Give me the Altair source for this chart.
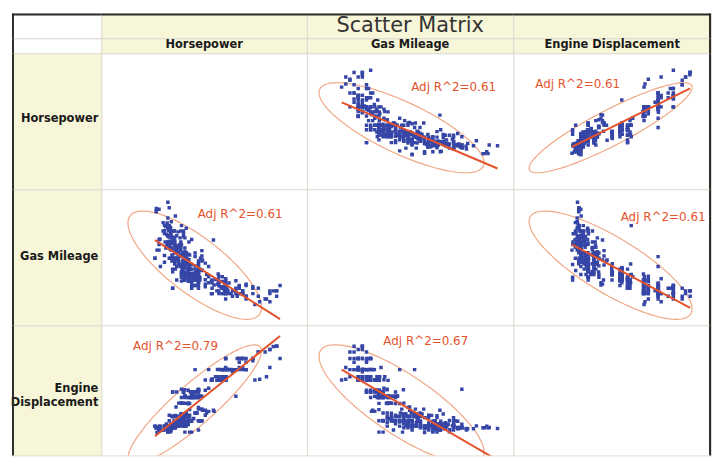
import numpy as np
import pandas as pd
import altair as alt

# ---- data (one entry per car; the same cars feed every panel) ----
MPG = [18,15,18,16,17,15,14,14,14,15,
       15,14,15,14,24,22,18,21,27,26,
       25,24,25,26,21,10,10,11,9,27,
       28,25,19,16,17,19,18,14,14,14,
       14,12,13,13,18,22,19,18,23,28,
       30,30,31,35,27,26,24,25,23,20,
       21,13,14,15,14,17,11,13,12,13,
       19,15,13,13,14,18,22,21,26,22,
       28,23,28,27,13,14,13,14,15,12,
       13,13,14,13,12,13,18,16,18,18,
       23,26,11,12,13,12,18,20,21,22,
       18,19,21,26,15,16,29,24,20,19,
       15,24,20,11,20,19,15,31,26,32,
       25,16,16,18,16,13,14,14,14,29,
       26,26,31,32,28,24,26,24,26,31,
       19,18,15,15,16,15,16,14,17,16,
       15,18,21,20,13,29,23,20,23,24,
       25,24,18,29,19,23,23,22,25,33,
       28,25,25,26,27,17.5,16,15.5,14.5,22,
       22,24,22.5,29,24.5,29,33,20,18,18.5,
       17.5,29.5,32,28,26.5,20,13,19,19,16.5,
       16.5,13,13,13,31.5,30,36,25.5,33.5,17.5,
       17,15.5,15,17.5,20.5,19,18.5,16,15.5,15.5,
       16,29,24.5,26,25.5,30.5,33.5,30,30.5,22,
       21.5,21.5,43.1,36.1,32.8,39.4,36.1,19.9,19.4,20.2,
       19.2,20.5,20.2,25.1,20.5,19.4,20.6,20.8,18.6,18.1,
       19.2,17.7,18.1,17.5,30,27.5,27.2,30.9,21.1,23.2,
       23.8,23.9,20.3,17,21.6,16.2,31.5,29.5,21.5,19.8,
       22.3,20.2,20.6,17,17.6,16.5,18.2,16.9,15.5,19.2,
       18.5,31.9,34.1,35.7,27.4,25.4,23,27.2,23.9,34.2,
       34.5,31.8,37.3,28.4,28.8,26.8,33.5,41.5,38.1,32.1,
       37.2,28,26.4,24.3,19.1,34.3,29.8,31.3,37,32.2,
       46.6,27.9,40.8,44.3,43.4,36.4,30,44.6,33.8,29.8,
       32.7,23.7,35,32.4,27.2,26.6,25.8,23.5,30,39.1,
       39,35.1,32.3,37,37.7,34.1,34.7,34.4,29.9,33,
       33.7,32.4,32.9,31.6,28.1,30.7,25.4,24.2,22.4,26.6,
       20.2,17.6,28,27,34,31,29,27,24,36,
       37,31,38,36,36,36,34,38,32,38,
       25,38,26,22,32,36,27,27,44,32,
       28,31]

DISP = [307,350,318,304,302,429,454,440,455,390,
        383,340,400,455,113,198,199,200,97,97,
        110,107,104,121,199,360,307,318,304,97,
        140,113,232,225,250,250,232,350,400,351,
        318,383,400,400,258,140,250,250,122,116,
        79,88,71,72,97,91,113,97.5,97,140,
        122,350,400,318,351,304,429,350,350,400,
        70,304,307,302,318,121,121,120,96,122,
        97,120,98,97,350,304,350,302,318,429,
        400,351,318,440,455,360,225,250,232,250,
        198,97,400,400,360,350,232,97,140,108,
        70,122,155,98,350,400,68,116,114,121,
        318,121,156,350,198,232,250,79,122,71,
        140,250,258,225,302,350,318,302,304,98,
        79,97,76,83,90,90,116,120,108,79,
        225,250,250,250,400,350,318,351,231,250,
        258,225,231,262,302,97,140,232,140,134,
        90,119,171,90,232,115,120,121,121,91,
        107,116,140,98,101,305,318,304,351,225,
        250,200,232,85,98,90,91,225,250,250,
        258,97,85,97,140,130,318,120,156,168,
        350,350,302,318,98,111,79,122,85,305,
        260,318,302,250,231,225,250,400,350,400,
        351,97,151,97,140,98,98,97,97,146,
        121,80,90,98,78,85,91,260,318,302,
        231,200,200,140,225,232,231,200,225,258,
        305,231,302,318,98,134,119,105,134,156,
        151,119,131,163,121,163,89,98,231,200,
        140,232,225,305,302,351,318,350,351,267,
        360,89,86,98,121,183,350,141,260,105,
        105,85,91,151,173,173,151,98,89,98,
        86,151,140,151,225,97,134,120,119,108,
        86,156,85,90,90,121,146,91,97,89,
        168,70,122,107,135,151,156,173,135,79,
        86,81,97,85,89,91,105,98,98,105,
        107,108,119,120,141,145,168,146,231,350,
        200,225,112,112,112,112,135,151,140,105,
        91,91,105,98,120,107,108,91,91,91,
        181,262,156,232,144,135,151,140,97,135,
        120,119]

HP = [130,165,150,150,140,198,220,215,225,190,
      170,160,150,225,95,95,97,85,88,46,
      87,90,95,113,90,215,200,210,193,88,
      90,95,100,105,100,88,100,165,175,153,
      150,180,170,175,110,72,100,88,86,90,
      70,76,65,69,60,70,95,80,54,90,
      86,165,175,150,153,150,208,155,160,190,
      97,150,130,140,150,112,76,87,69,86,
      92,97,80,88,175,150,145,137,150,198,
      150,158,150,215,225,175,105,100,100,88,
      95,46,150,167,170,180,100,88,72,94,
      90,85,107,90,145,230,49,75,91,112,
      150,110,122,180,95,100,100,67,80,65,
      75,100,110,105,140,150,150,140,150,83,
      67,78,52,61,75,75,75,97,93,67,
      95,105,72,72,170,145,150,148,110,105,
      110,95,110,110,129,75,83,100,78,96,
      71,97,97,70,90,95,88,98,115,53,
      86,81,92,79,83,140,150,120,152,100,
      105,81,90,52,60,70,53,100,78,110,
      95,71,70,75,72,102,150,88,108,120,
      180,145,130,150,68,80,58,96,70,145,
      110,145,130,110,105,100,98,180,170,190,
      149,78,88,75,89,63,83,67,78,97,
      110,110,48,66,52,70,60,110,140,139,
      105,95,85,88,100,90,105,85,110,120,
      145,165,139,140,68,95,97,75,95,105,
      85,97,103,125,115,133,71,68,115,85,
      88,90,110,130,129,138,135,155,142,125,
      150,71,65,80,80,77,125,71,90,70,
      70,65,69,90,115,115,90,76,60,70,
      65,90,88,90,90,78,90,75,92,75,
      65,105,65,48,48,67,67,67,67,62,
      132,100,88,72,84,84,92,110,84,58,
      64,60,67,65,62,68,63,65,65,74,
      75,75,100,74,80,76,116,120,110,105,
      88,85,88,88,88,85,84,90,92,74,
      68,68,63,70,88,75,70,67,67,67,
      110,85,92,112,96,84,90,86,52,84,
      79,82]

assert len(MPG) == len(DISP) == len(HP), (len(MPG), len(DISP), len(HP))

VARS = ["hp", "mpg", "disp"]
COL_LABELS = ["Horsepower", "Gas Mileage", "Engine Displacement"]
ROW_LABELS = ["Horsepower", "Gas Mileage", "Engine\nDisplacement"]
TITLE = "Scatter Matrix"
# (row, col) -> annotation text
R2_CELLS = [(0, 1), (0, 2), (1, 0), (1, 2), (2, 0), (2, 1)]
R2_TEXT = ["Adj R^2=0.61", "Adj R^2=0.61", "Adj R^2=0.61",
           "Adj R^2=0.61", "Adj R^2=0.79", "Adj R^2=0.67"]

cars = pd.DataFrame({"mpg": MPG, "disp": DISP, "hp": HP})

# ---- styling / layout ----
BLUE = "#3646a6"
RED = "#e4532c"
ELL = "#f0a884"
YELLOW = "#f8f6d8"
GRID = "#dedbd2"
BORDER = "#2b2b2b"
FONT = "DejaVu Sans"

LEFT_W = 90
COL_W = [207, 208, 199]
HEAD_H = [25, 15]
ROW_H = [137, 137, 131]

DOM = {"hp": [46, 230], "mpg": [9, 46.6], "disp": [68, 455]}
X_RANGE = {"hp": [54, 180], "mpg": [35, 192], "disp": [59, 178]}
Y_RANGE = {"hp": [102, 17], "mpg": [116, 13], "disp": [108, 21]}
LABEL_POS = {(0, 1): (105, 34), (0, 2): (22, 31), (1, 0): (97, 25),
             (1, 2): (108, 28), (2, 0): (32, 21), (2, 1): (77, 16)}

one = pd.DataFrame({"a": [0]})


def borders(w, h, left=False, top=False, right=False):
    out = []
    if left:
        out.append(alt.Chart(one).mark_rule(color=BORDER, strokeWidth=2).encode(
            x=alt.value(1), y=alt.value(0), y2=alt.value(h)))
    if top:
        out.append(alt.Chart(one).mark_rule(color=BORDER, strokeWidth=2).encode(
            x=alt.value(0), x2=alt.value(w), y=alt.value(1)))
    if right:
        out.append(alt.Chart(one).mark_rule(color=BORDER, strokeWidth=2).encode(
            x=alt.value(w - 1), y=alt.value(0), y2=alt.value(h)))
    return out


def ellipse_df(xv, yv, k=2.55, n=140):
    xs = cars[xv].to_numpy(float)
    ys = cars[yv].to_numpy(float)
    mean = np.array([xs.mean(), ys.mean()])
    cov = np.cov(xs, ys)
    vals, vecs = np.linalg.eigh(cov)
    t = np.linspace(0, 2 * np.pi, n)
    circ = np.vstack([np.cos(t), np.sin(t)])
    pts = vecs @ (np.sqrt(vals)[:, None] * k * circ) + mean[:, None]
    return pd.DataFrame({xv: pts[0], yv: pts[1], "i": np.arange(n)})


def cell_view(fill):
    return alt.ViewBackground(fill=fill, stroke=GRID, strokeWidth=1)


def scatter_cell(r, c):
    w, h = COL_W[c], ROW_H[r]
    right = c == 2
    if r == c:
        empty = alt.Chart(one).mark_point(opacity=0).encode(x=alt.value(0), y=alt.value(0))
        return alt.layer(empty, *borders(w, h, right=right)).properties(
            width=w, height=h, view=cell_view("white"))
    xv, yv = VARS[c], VARS[r]
    X = alt.X(f"{xv}:Q", scale=alt.Scale(domain=DOM[xv], range=X_RANGE[xv]), axis=None)
    Y = alt.Y(f"{yv}:Q", scale=alt.Scale(domain=DOM[yv], range=Y_RANGE[yv]), axis=None)
    ell = alt.Chart(ellipse_df(xv, yv)).mark_line(
        color=ELL, strokeWidth=1.2, clip=True).encode(x=X, y=Y, order="i:Q")
    pts = alt.Chart(cars).mark_square(size=12, color=BLUE, opacity=1, clip=True).encode(x=X, y=Y)
    reg = alt.Chart(cars).transform_regression(xv, yv).mark_line(
        color=RED, strokeWidth=2, clip=True).encode(x=X, y=Y)
    idx = R2_CELLS.index((r, c))
    px, py = LABEL_POS[(r, c)]
    txt = alt.Chart(pd.DataFrame({"t": [R2_TEXT[idx]]})).mark_text(
        align="left", baseline="middle", font=FONT, fontSize=12, color=RED).encode(
        text="t:N", x=alt.value(px), y=alt.value(py))
    return alt.layer(ell, pts, reg, txt, *borders(w, h, right=right)).properties(
        width=w, height=h, view=cell_view("white"))


def text_cell(text, w, h, fill, x, y, align="center", size=11.5, weight="bold",
              color="#1a1a1a", left=False, top=False, right=False, line_h=14):
    layers = []
    if text:
        layers.append(alt.Chart(pd.DataFrame({"t": [text]})).mark_text(
            align=align, baseline="middle", font=FONT, fontSize=size, fontWeight=weight,
            color=color, lineBreak="\n", lineHeight=line_h).encode(
            text="t:N", x=alt.value(x), y=alt.value(y)))
    else:
        layers.append(alt.Chart(one).mark_point(opacity=0).encode(x=alt.value(0), y=alt.value(0)))
    layers += borders(w, h, left=left, top=top, right=right)
    return alt.layer(*layers).properties(width=w, height=h, view=cell_view(fill))


cells = []
# header row 1 (title)
cells.append(text_cell("", LEFT_W, HEAD_H[0], "white", 0, 0, left=True, top=True))
for c in range(3):
    cells.append(text_cell(TITLE if c == 1 else "", COL_W[c], HEAD_H[0], YELLOW,
                           COL_W[c] / 2, 13, size=21, weight="normal", color="#333333",
                           top=True, right=(c == 2)))
# header row 2 (column names)
cells.append(text_cell("", LEFT_W, HEAD_H[1], "white", 0, 0, left=True))
for c in range(3):
    cells.append(text_cell(COL_LABELS[c], COL_W[c], HEAD_H[1], YELLOW,
                           COL_W[c] / 2, 7, right=(c == 2)))
# matrix rows
ROW_Y = [66, 68, 64]
for r in range(3):
    cells.append(text_cell(ROW_LABELS[r], LEFT_W, ROW_H[r], YELLOW, LEFT_W - 3, ROW_Y[r],
                           align="right", left=True))
    for c in range(3):
        cells.append(scatter_cell(r, c))

chart = alt.concat(*cells, columns=4, spacing=0, bounds="flush").properties(
    padding=0, background="white").configure_concat(spacing=0).configure_view(stroke=GRID)

chart.save("out.html", embed_options={"renderer": "svg", "actions": False})
